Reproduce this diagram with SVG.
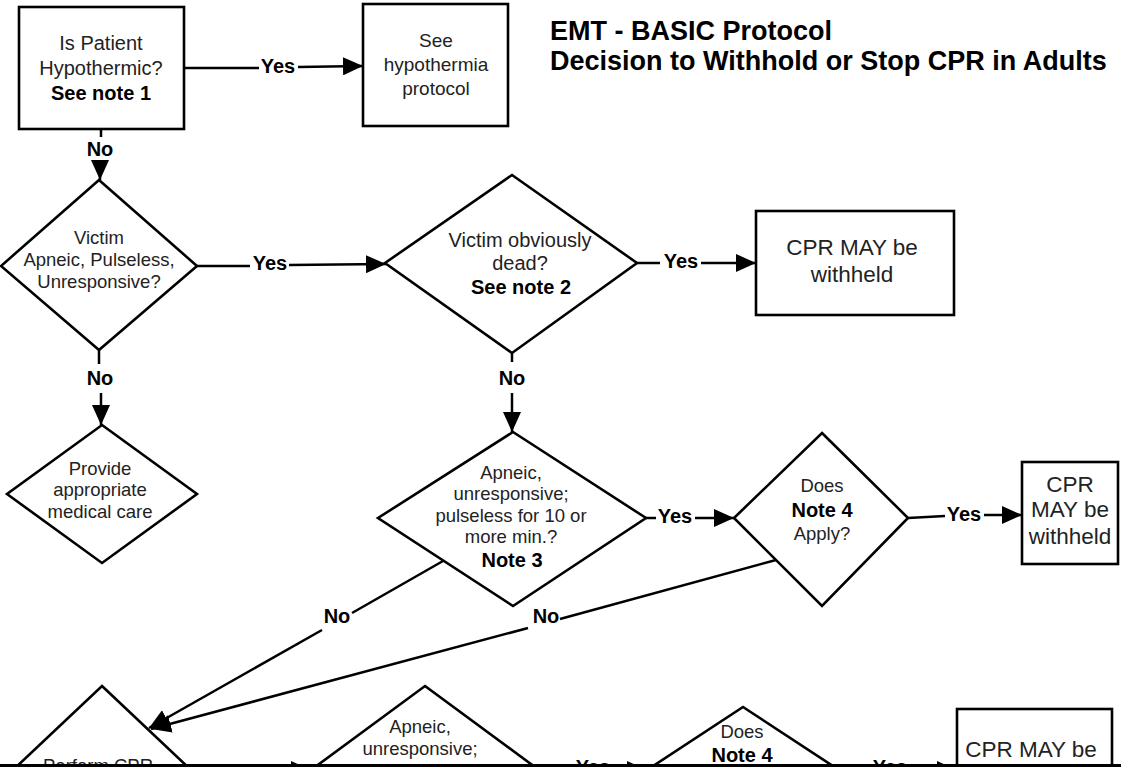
<svg xmlns="http://www.w3.org/2000/svg" width="1121" height="767" viewBox="0 0 1121 767">
<style>
.n{fill:#fff;stroke:#000;stroke-width:2.6}
.t{font-family:"Liberation Sans",Arial,sans-serif;font-size:18.5px;fill:#222;text-anchor:middle}
.big{font-size:22.5px}
.b{font-weight:bold;fill:#000;font-size:20px}
.e{stroke:#000;stroke-width:2.5;fill:none}
.a{marker-end:url(#ah)}
.l{font-family:"Liberation Sans",Arial,sans-serif;font-size:20px;font-weight:bold;fill:#000;text-anchor:middle}
.title{font-family:"Liberation Sans",Arial,sans-serif;font-size:27px;font-weight:bold;fill:#000}
</style>
<defs>
<marker id="ah" viewBox="0 0 20 18" refX="20" refY="9" markerWidth="20" markerHeight="18" markerUnits="userSpaceOnUse" orient="auto">
<path d="M0,0 L20,9 L0,18 z" fill="#000"/>
</marker>
</defs>
<rect width="1121" height="767" fill="#fff"/>
<g id="title">
<text class="title" x="550" y="40">EMT - BASIC Protocol</text>
<text class="title" x="550" y="70">Decision to Withhold or Stop CPR in Adults</text>
</g>
<g id="connectors">
<line class="e" x1="184" y1="68" x2="259" y2="68"/>
<text class="l" x="278" y="73">Yes</text>
<line class="e a" x1="298" y1="67" x2="363" y2="66"/>
<line class="e" x1="101" y1="129" x2="101" y2="137"/>
<text class="l" x="100" y="156">No</text>
<line class="e a" x1="100" y1="162" x2="100" y2="180"/>
<line class="e" x1="197" y1="266" x2="250" y2="266"/>
<text class="l" x="270" y="270">Yes</text>
<line class="e a" x1="289" y1="265" x2="386" y2="264"/>
<line class="e" x1="99" y1="350" x2="99" y2="364"/>
<text class="l" x="100" y="385">No</text>
<line class="e a" x1="101" y1="393" x2="101" y2="425"/>
<line class="e" x1="637" y1="263" x2="660" y2="263"/>
<text class="l" x="681" y="268">Yes</text>
<line class="e a" x1="701" y1="263" x2="756" y2="263"/>
<line class="e" x1="512" y1="353" x2="512" y2="362"/>
<text class="l" x="512" y="385">No</text>
<line class="e a" x1="512" y1="393" x2="512" y2="432"/>
<line class="e" x1="646" y1="518" x2="656" y2="518"/>
<text class="l" x="675" y="523">Yes</text>
<line class="e a" x1="695" y1="518" x2="734" y2="518"/>
<line class="e" x1="908" y1="518" x2="945" y2="516"/>
<text class="l" x="964" y="521">Yes</text>
<line class="e a" x1="984" y1="515" x2="1022" y2="515"/>
<line class="e" x1="443" y1="561" x2="352" y2="613"/>
<text class="l" x="337" y="623">No</text>
<line class="e a" x1="322" y1="630" x2="149" y2="728"/>
<line class="e" x1="776" y1="560" x2="560" y2="619"/>
<text class="l" x="546" y="623">No</text>
<line class="e a" x1="528" y1="628" x2="151" y2="729"/>
<line class="e a" x1="191" y1="770" x2="311" y2="770"/>
<line class="e" x1="539" y1="770" x2="574" y2="770"/>
<text class="l" x="593" y="774">Yes</text>
<line class="e a" x1="612" y1="770" x2="647" y2="770"/>
<line class="e" x1="839" y1="770" x2="870" y2="770"/>
<text class="l" x="890" y="774">Yes</text>
<line class="e a" x1="910" y1="770" x2="957" y2="770"/>
</g>
<g id="n1">
<rect class="n" x="19" y="7" width="165" height="122"/>
<text class="t" style="font-size:20px" x="101" y="50">Is Patient</text>
<text class="t" style="font-size:20px" x="101" y="75">Hypothermic?</text>
<text class="t b" x="101" y="100">See note 1</text>
</g>
<g id="n2">
<rect class="n" x="363" y="4" width="145" height="122"/>
<text class="t" style="font-size:19px" x="436" y="47">See</text>
<text class="t" style="font-size:19px" x="436" y="71">hypothermia</text>
<text class="t" style="font-size:19px" x="436" y="95">protocol</text>
</g>
<g id="n3">
<polygon class="n" points="99,180 197,266 99,350 1,266"/>
<text class="t" x="99" y="244">Victim</text>
<text class="t" x="99" y="266">Apneic, Pulseless,</text>
<text class="t" x="99" y="288">Unresponsive?</text>
</g>
<g id="n4">
<polygon class="n" points="512,175 637,263 512,353 385,263"/>
<text class="t" style="font-size:20px" x="520" y="247">Victim obviously</text>
<text class="t" style="font-size:20px" x="520" y="270">dead?</text>
<text class="t b" x="521" y="294">See note 2</text>
</g>
<g id="n5">
<rect class="n" x="756" y="211" width="198" height="104"/>
<text class="t big" x="852" y="255">CPR MAY be</text>
<text class="t big" x="852" y="282">withheld</text>
</g>
<g id="n6">
<polygon class="n" points="102,425 197,494 102,563 7,494"/>
<text class="t" x="100" y="475">Provide</text>
<text class="t" x="100" y="496">appropriate</text>
<text class="t" x="100" y="518">medical care</text>
</g>
<g id="n7">
<polygon class="n" points="513,432 646,518 513,606 378,518"/>
<text class="t" x="511" y="479">Apneic,</text>
<text class="t" x="511" y="500">unresponsive;</text>
<text class="t" x="511" y="522">pulseless for 10 or</text>
<text class="t" x="511" y="543">more min.?</text>
<text class="t b" x="512" y="567">Note 3</text>
</g>
<g id="n8">
<polygon class="n" points="822,433 908,518 822,606 734,518"/>
<text class="t" x="822" y="492">Does</text>
<text class="t b" x="822" y="517">Note 4</text>
<text class="t" x="822" y="540">Apply?</text>
</g>
<g id="n9">
<rect class="n" x="1022" y="462" width="96" height="102"/>
<text class="t big" x="1070" y="492">CPR</text>
<text class="t big" x="1070" y="517">MAY be</text>
<text class="t big" x="1070" y="544">withheld</text>
</g>
<g id="n10">
<polygon class="n" points="102,686 191,770 102,854 13,770"/>
<text class="t" x="98" y="772">Perform CPR</text>
</g>
<g id="n11">
<polygon class="n" points="425,686 539,770 425,854 311,770"/>
<text class="t" x="420" y="733">Apneic,</text>
<text class="t" x="420" y="755">unresponsive;</text>
</g>
<g id="n12">
<polygon class="n" points="743,707 839,770 743,833 647,770"/>
<text class="t" x="742" y="738">Does</text>
<text class="t b" x="742" y="762">Note 4</text>
</g>
<g id="n13">
<rect class="n" x="957" y="709" width="155" height="110"/>
<text class="t big" x="1031" y="757">CPR MAY be</text>
</g>
<rect id="bottom-edge" x="0" y="764" width="1121" height="3" fill="#000"/>
</svg>
